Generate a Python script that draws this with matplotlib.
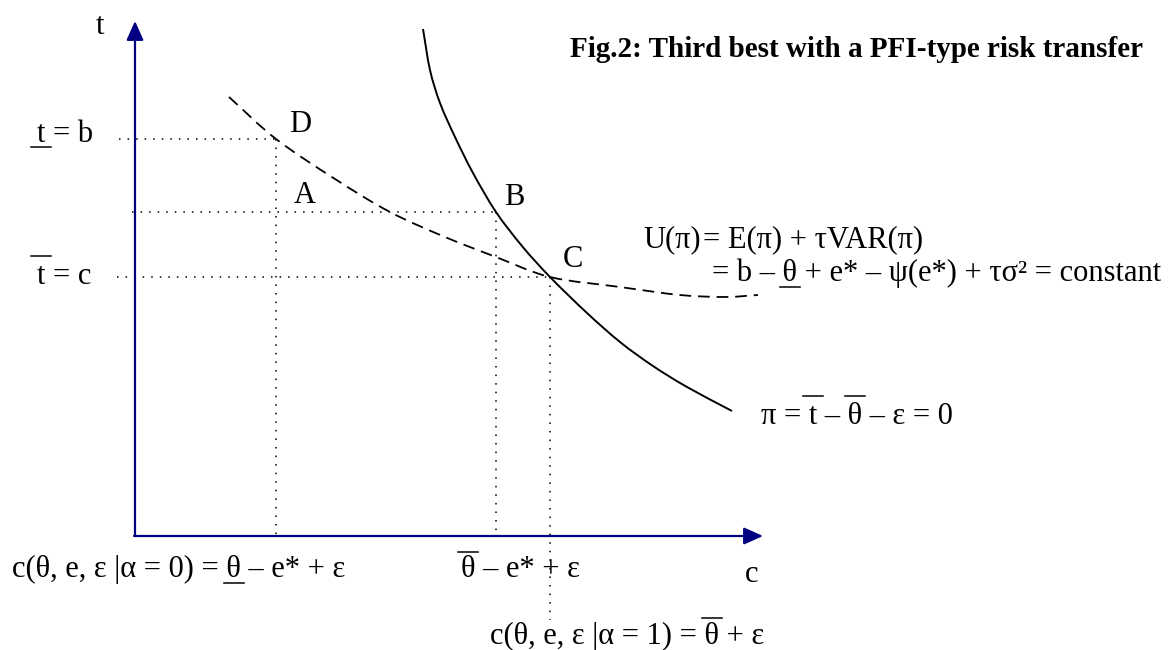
import numpy as np
import matplotlib
matplotlib.use("Agg")
import matplotlib.pyplot as plt
from matplotlib.path import Path
from matplotlib.patches import PathPatch
from matplotlib.lines import Line2D

plt.rcParams["font.family"] = ["Liberation Serif", "DejaVu Serif"]

# ---- diagram values in (c, t) units ----
t_low = 396        # t = b   (level through D)
t_mid = 323        # level through A and B
t_high = 258       # t-bar = c (level through C)
c_D = 141
c_B = 361
c_C = 415

# zero-profit locus  pi = t - theta - eps = 0
zero_profit_c = [288, 295, 305, 320, 338, 361, 387, 415, 452, 485, 518, 552, 597]
zero_profit_t = [506, 465, 432, 398, 362, 323, 289, 258, 222, 193, 169, 148, 124]

# iso-utility curve U(pi) = constant
iso_utility_c = [94, 141, 200, 255, 310, 361, 415, 485, 545, 590, 623]
iso_utility_t = [438, 396, 356, 323, 298, 278, 258, 248, 240, 238, 240]

W, H = 1168, 650
fig = plt.figure(figsize=(W / 100, H / 100), dpi=100)
ax = fig.add_axes([0, 0, 1, 1])
ax.set_xlim(-135, W - 135)
ax.set_ylim(535 - H, 535)
ax.axis("off")

FS = 22
NAVY = "#000080"


def smooth_path(cs, ts):
    """Cubic Bezier path passing through every given point (Catmull-Rom)."""
    P = np.column_stack([cs, ts]).astype(float)
    ext = np.vstack([2 * P[0] - P[1], P, 2 * P[-1] - P[-2]])
    verts = [P[0]]
    codes = [Path.MOVETO]
    for i in range(1, len(ext) - 2):
        p0, p1, p2, p3 = ext[i - 1], ext[i], ext[i + 1], ext[i + 2]
        verts += [p1 + (p2 - p0) / 6, p2 - (p3 - p1) / 6, p2]
        codes += [Path.CURVE4] * 3
    return Path(verts, codes)


# axes with arrow heads
arrow = dict(arrowstyle="-|>,head_length=0.58,head_width=0.26",
             mutation_scale=20, color=NAVY, lw=1.6, shrinkA=0, shrinkB=0)
ax.annotate("", xy=(0, 514), xytext=(0, -1), arrowprops=arrow)
ax.annotate("", xy=(628, -1), xytext=(-1, -1), arrowprops=arrow)

# dotted guide lines
dot = dict(color="black", lw=1.1, linestyle=(0, (1, 4.6)))
ax.plot([-16, c_D], [t_low, t_low], **dot)
ax.plot([-3, c_B], [t_mid, t_mid], **dot)
ax.plot([-18, c_C], [t_high, t_high], **dot)
ax.plot([c_D, c_D], [t_low, 0], **dot)
ax.plot([c_B, c_B], [t_mid, 0], **dot)
ax.plot([c_C, c_C], [t_high, -85], **dot)

# curves
ax.add_patch(PathPatch(smooth_path(zero_profit_c, zero_profit_t),
                       fill=False, color="black", lw=1.4))
ax.add_patch(PathPatch(smooth_path(iso_utility_c, iso_utility_t),
                       fill=False, color="black", lw=1.3,
                       linestyle=(0, (6.5, 3.8))))

fig.canvas.draw()
renderer = fig.canvas.get_renderer()


def label(c, t, s, marks=(), ha="left", **kw):
    """Text on its baseline; marks = [(index, 'over'|'under', offset_px), ...]."""
    txt = ax.text(c, t, s, ha=ha, va="baseline", fontsize=kw.pop("size", FS), **kw)
    if not marks:
        return txt
    prop = txt.get_fontproperties()
    bb = txt.get_window_extent(renderer)
    base = ax.transData.transform((c, t))[1]

    def ink(u):
        return renderer.get_text_width_height_descent(u, prop, ismath=False)[0]

    for i, kind, off in marks:
        x0 = bb.x0 + (ink(s[:i] + "l") - ink("l") if i else 0)
        x1 = bb.x0 + ink(s[:i + 1])
        xm = 0.5 * (x0 + x1)
        y = base + (off if kind == "over" else -off)
        fig.add_artist(Line2D([xm - 10, xm + 10], [y, y], transform=None,
                              color="black", lw=1.1))
    return txt


# axis names
label(-35, 501, "t", ha="center")
label(617, -47, "c", ha="center")

# levels on the t axis
label(-98, 393, "t = b", marks=[(0, "under", 5)])
label(-98, 251, "t = c", marks=[(0, "over", 28)])

# points
label(165, 403, "D", ha="center")
label(170, 332, "A", ha="center")
label(379, 330, "B", ha="center")
label(438, 268, "C", ha="center")

# curve descriptions
label(508, 288, "U(π)")
label(568, 288, "= E(π) + τVAR(π)")
s2 = "= b – θ + e* – ψ(e*) + τσ² = constant"
label(577, 254, s2, marks=[(s2.index("θ"), "under", 6)])
s3 = "π = t – θ – ε = 0"
label(626, 111, s3, marks=[(s3.index("t"), "over", 28), (s3.index("θ"), "over", 28)])

# values on the c axis
s4 = "c(θ, e, ε |α = 0) = θ – e* + ε"
label(-123, -42, s4, marks=[(s4.rindex("θ"), "under", 6)])
s5 = "θ – e* + ε"
label(326, -42, s5, marks=[(0, "over", 25)])
s6 = "c(θ, e, ε |α = 1) = θ + ε"
label(355, -109, s6, marks=[(s6.rindex("θ"), "over", 26)])

# title
label(435, 478, "Fig.2: Third best with a PFI-type risk transfer",
      fontweight="bold", size=21)

fig.savefig("out.png", dpi=100)
